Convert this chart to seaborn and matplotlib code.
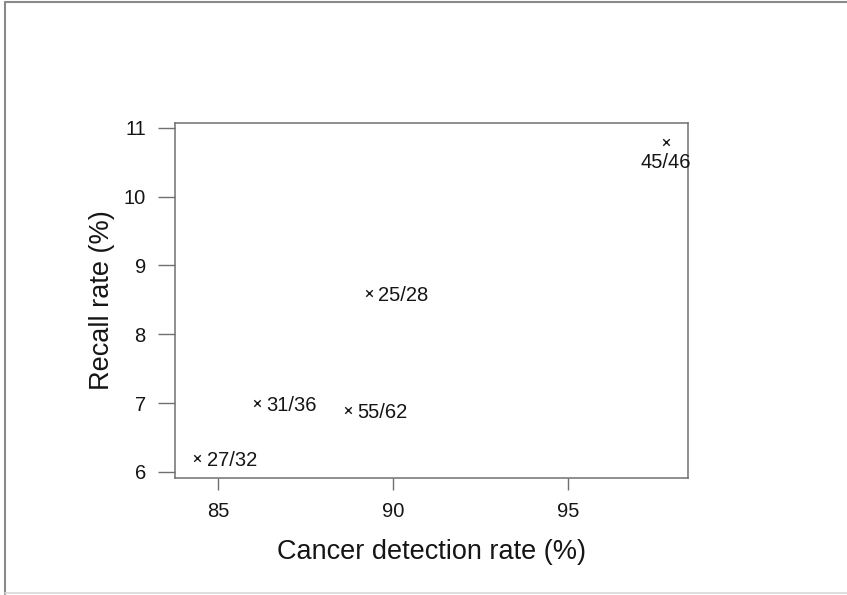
import matplotlib
matplotlib.use("Agg")
import matplotlib.pyplot as plt
from matplotlib.lines import Line2D
import pandas as pd
import seaborn as sns

# Detection vs recall rates per reader group
detection_rate = [97.8, 89.3, 86.1, 88.7, 84.4]
recall_rate = [10.8, 8.6, 7.0, 6.9, 6.2]
point_labels = ["45/46", "25/28", "31/36", "55/62", "27/32"]
label_below = [True, False, False, False, False]

x_ticks = [85, 90, 95]
y_ticks = [6, 7, 8, 9, 10, 11]

sns.set_style("white")
plt.rcParams["font.family"] = ["Liberation Sans", "DejaVu Sans"]

df = pd.DataFrame({"detection": detection_rate, "recall": recall_rate,
                   "label": point_labels, "below": label_below})

W, H = 847, 595
fig = plt.figure(figsize=(W / 100, H / 100), dpi=100)
ax = fig.add_axes([175 / W, 1 - 478 / H, (688 - 175) / W, (478 - 123) / H])

sns.scatterplot(data=df, x="detection", y="recall", marker="x", color="#1a1a1a",
                s=22, linewidth=1.0, ax=ax, legend=False)

for _, row in df.iterrows():
    if row["below"]:
        ax.annotate(row["label"], (row["detection"], row["recall"]),
                    xytext=(0, -15), textcoords="offset points",
                    ha="center", va="center", fontsize=14.5, color="#151515")
    else:
        ax.annotate(row["label"], (row["detection"], row["recall"]),
                    xytext=(7, -2), textcoords="offset points",
                    ha="left", va="center", fontsize=14.5, color="#151515")

ax.set_xlim(83.77, 98.43)
ax.set_ylim(5.91, 11.07)
ax.set_xticks(x_ticks)
ax.set_yticks(y_ticks)
ax.set_xticklabels([str(t) for t in x_ticks])
ax.set_yticklabels([str(t) for t in y_ticks])

spine_col = "#707070"
for sp in ax.spines.values():
    sp.set_visible(True)
    sp.set_color(spine_col)
    sp.set_linewidth(1.1)

ax.tick_params(axis="x", direction="out", length=8.5, width=1.0, color=spine_col,
               labelsize=14.5, labelcolor="#151515", pad=9, bottom=True)
ax.tick_params(axis="y", direction="out", length=12, width=1.0, color=spine_col,
               labelsize=14.5, labelcolor="#151515", pad=9, left=True)

ax.set_xlabel("Cancer detection rate (%)", fontsize=19.5, color="#151515", labelpad=13)
ax.set_ylabel("Recall rate (%)", fontsize=19.5, color="#151515", labelpad=6)

# Page frame around the figure
frame_kw = dict(transform=None, color="#8a8a8a", linewidth=1.5)
fig.add_artist(Line2D([5, W], [H - 2, H - 2], **frame_kw))
fig.add_artist(Line2D([5, 5], [H - 2, 1], **frame_kw))
fig.add_artist(Line2D([5, W], [2, 2], transform=None, color="#d8d8d8", linewidth=1.2))

fig.savefig("out.png", dpi=100, facecolor="white")
